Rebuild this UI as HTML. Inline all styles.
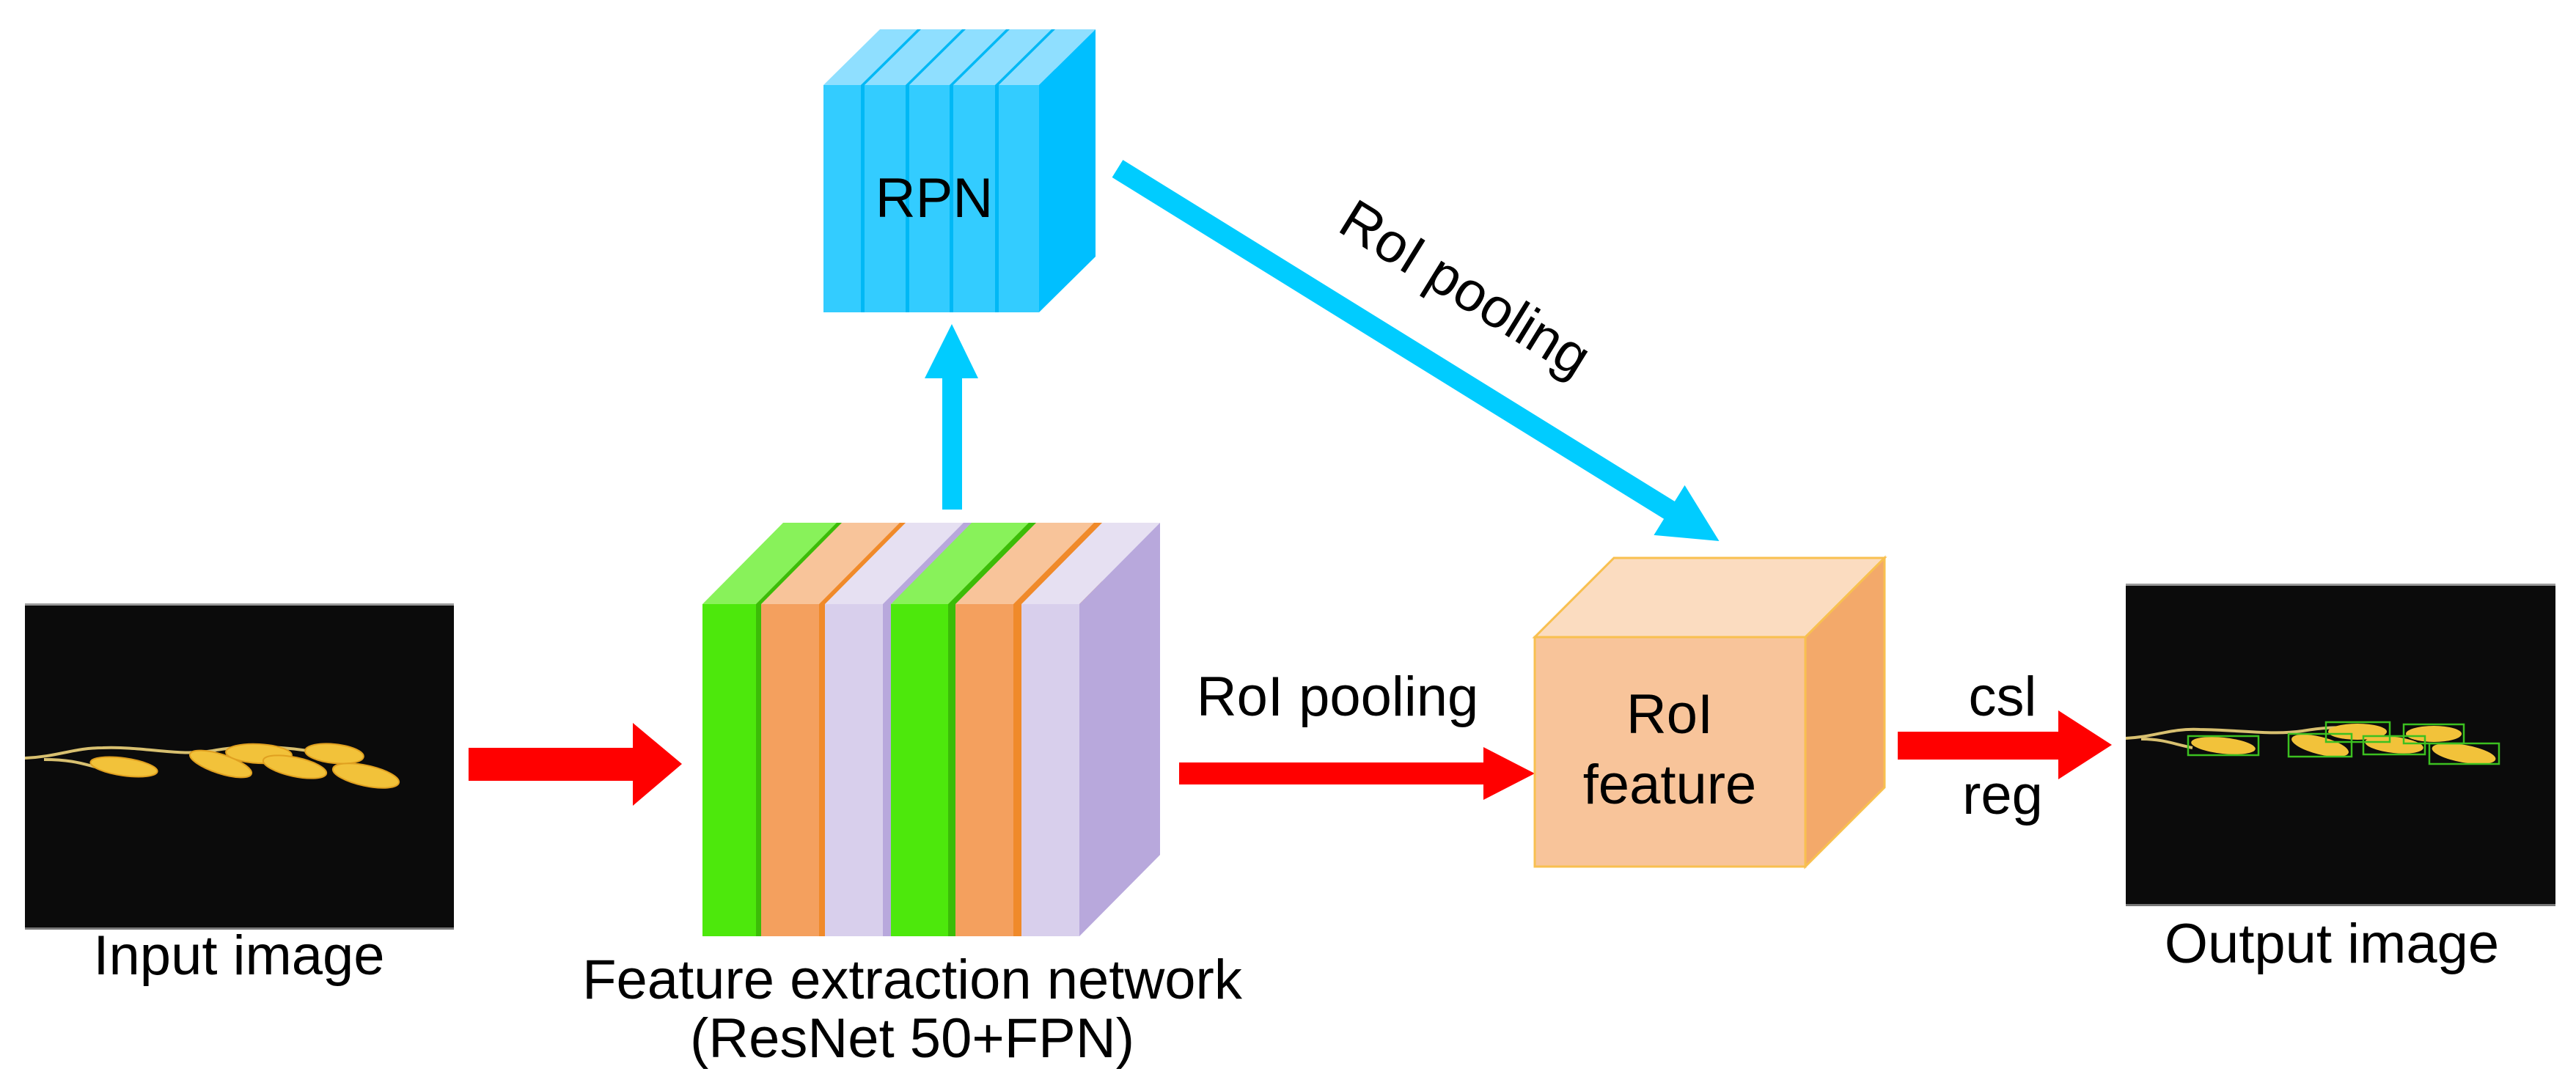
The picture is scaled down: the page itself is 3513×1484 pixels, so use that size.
<!DOCTYPE html>
<html><head><meta charset="utf-8"><style>
html,body{margin:0;padding:0;background:#fff;}
svg{display:block;}
text{font-family:"Liberation Sans",Arial,sans-serif;fill:#000;}
</style></head><body>
<svg width="3513" height="1484" viewBox="0 0 3513 1484" xmlns="http://www.w3.org/2000/svg">
<rect width="3513" height="1484" fill="#fff"/>

<!-- Input image -->
<rect x="34" y="825" width="585" height="442" fill="#0b0b0b"/>
<rect x="34" y="823" width="585" height="3" fill="#999"/>
<rect x="34" y="1265" width="585" height="3" fill="#777"/>
<g fill="#f2c23a" stroke="#e0a020" stroke-width="2">
<path d="M34 1034 C80 1032 100 1020 140 1020 C200 1018 240 1032 290 1024 C330 1016 380 1018 420 1024" fill="none" stroke="#d8c070" stroke-width="4"/>
<path d="M60 1036 C110 1036 120 1046 150 1050" fill="none" stroke="#d8c070" stroke-width="4"/>
<ellipse cx="169" cy="1046" rx="46" ry="12" transform="rotate(8 169 1046)"/>
<ellipse cx="301" cy="1042" rx="44" ry="13" transform="rotate(18 301 1042)"/>
<ellipse cx="353" cy="1028" rx="45" ry="13" transform="rotate(3 353 1028)"/>
<ellipse cx="402" cy="1046" rx="44" ry="13" transform="rotate(12 402 1046)"/>
<ellipse cx="456" cy="1028" rx="40" ry="13" transform="rotate(6 456 1028)"/>
<ellipse cx="499" cy="1058" rx="46" ry="14" transform="rotate(12 499 1058)"/>
</g>
<text x="326" y="1329" font-size="76" text-anchor="middle">Input image</text>

<!-- Red arrow 1 -->
<polygon points="639,1020 863,1020 863,986 930,1042 863,1099 863,1065 639,1065" fill="#ff0000"/>

<!-- Feature stack -->
<g>
<!-- slab: green 1 -->
<polygon points="958,824 1038,824 1148,713 1068,713" fill="#88f25a"/>
<polygon points="1031,824 1141,713 1148,713 1148,1166 1038,1277 1031,1277" fill="#3cbc08"/>
<rect x="958" y="824" width="73" height="453" fill="#4de80c"/>
<!-- orange 1 -->
<polygon points="1038,824 1125,824 1235,713 1148,713" fill="#f8c49a"/>
<polygon points="1117,824 1227,713 1235,713 1235,1166 1125,1277 1117,1277" fill="#f08a2a"/>
<rect x="1038" y="824" width="79" height="453" fill="#f4a05e"/>
<!-- lavender 1 -->
<polygon points="1125,824 1215,824 1325,713 1235,713" fill="#e6e0f2"/>
<polygon points="1204,824 1314,713 1325,713 1325,1166 1215,1277 1204,1277" fill="#b8a8dc"/>
<rect x="1125" y="824" width="79" height="453" fill="#d8cfec"/>
<!-- green 2 -->
<polygon points="1215,824 1303,824 1413,713 1325,713" fill="#88f25a"/>
<polygon points="1293,824 1403,713 1413,713 1413,1166 1303,1277 1293,1277" fill="#3cbc08"/>
<rect x="1215" y="824" width="78" height="453" fill="#4de80c"/>
<!-- orange 2 -->
<polygon points="1303,824 1393,824 1503,713 1413,713" fill="#f8c49a"/>
<polygon points="1382,824 1492,713 1503,713 1503,1166 1393,1277 1382,1277" fill="#f08a2a"/>
<rect x="1303" y="824" width="79" height="453" fill="#f4a05e"/>
<!-- lavender 2 -->
<polygon points="1393,824 1472,824 1582,713 1503,713" fill="#e6e0f2"/>
<polygon points="1472,824 1582,713 1582,1166 1472,1277" fill="#b8a8dc"/>
<rect x="1393" y="824" width="79" height="453" fill="#d8cfec"/>
</g>
<text x="1244" y="1362" font-size="76" text-anchor="middle">Feature extraction network</text>
<text x="1244" y="1442" font-size="76" text-anchor="middle">(ResNet 50+FPN)</text>

<!-- Blue up arrow -->
<polygon points="1285,695 1312,695 1312,516 1334,516 1298,442 1261,516 1285,516" fill="#00ccff"/>

<!-- RPN block -->
<g>
<polygon points="1123,116 1179,116 1256,40 1200,40" fill="#8fdfff"/>
<polygon points="1174,116 1251,40 1256,40 1256,350 1179,426 1174,426" fill="#00b8f5"/>
<rect x="1123" y="116" width="51" height="310" fill="#33ccff"/>
<polygon points="1179,116 1240,116 1317,40 1256,40" fill="#8fdfff"/>
<polygon points="1235,116 1312,40 1317,40 1317,350 1240,426 1235,426" fill="#00b8f5"/>
<rect x="1179" y="116" width="56" height="310" fill="#33ccff"/>
<polygon points="1240,116 1300,116 1377,40 1317,40" fill="#8fdfff"/>
<polygon points="1295,116 1372,40 1377,40 1377,350 1300,426 1295,426" fill="#00b8f5"/>
<rect x="1240" y="116" width="55" height="310" fill="#33ccff"/>
<polygon points="1300,116 1362,116 1439,40 1377,40" fill="#8fdfff"/>
<polygon points="1357,116 1434,40 1439,40 1439,350 1362,426 1357,426" fill="#00b8f5"/>
<rect x="1300" y="116" width="57" height="310" fill="#33ccff"/>
<polygon points="1362,116 1417,116 1494,40 1439,40" fill="#8fdfff"/>
<polygon points="1417,116 1494,40 1494,350 1417,426" fill="#00bfff"/>
<rect x="1362" y="116" width="55" height="310" fill="#33ccff"/>
</g>
<text x="1274" y="296" font-size="76" text-anchor="middle">RPN</text>

<!-- Diagonal blue arrow -->
<g transform="translate(1524,230) rotate(31.76)">
<polygon points="0,-14 885,-14 885,-40 965,0 885,40 885,14 0,14" fill="#00ccff"/>
</g>
<text x="0" y="0" font-size="76" text-anchor="middle" transform="translate(1985,415) rotate(31.76)">RoI pooling</text>

<!-- Red arrow 2 -->
<polygon points="1608,1040 2023,1040 2023,1019 2093,1055 2023,1091 2023,1070 1608,1070" fill="#ff0000"/>
<text x="1824" y="976" font-size="76" text-anchor="middle">RoI pooling</text>

<!-- RoI feature cube -->
<polygon points="2093,869 2462,869 2570,761 2201,761" fill="#fbdcc0" stroke="#f8c050" stroke-width="3"/>
<polygon points="2462,869 2570,761 2570,1074 2462,1182" fill="#f3a96a" stroke="#f8c050" stroke-width="3"/>
<rect x="2093" y="869" width="369" height="313" fill="#f8c49a" stroke="#f8c050" stroke-width="3"/>
<text x="2277" y="1000" font-size="76" text-anchor="middle">RoI</text>
<text x="2277" y="1096" font-size="76" text-anchor="middle">feature</text>

<!-- Red arrow 3 -->
<polygon points="2588,998 2807,998 2807,969 2880,1016 2807,1063 2807,1036 2588,1036" fill="#ff0000"/>
<text x="2731" y="976" font-size="76" text-anchor="middle">csl</text>
<text x="2731" y="1110" font-size="76" text-anchor="middle">reg</text>

<!-- Output image -->
<rect x="2899" y="798" width="586" height="437" fill="#0b0b0b"/>
<rect x="2899" y="796" width="586" height="3" fill="#999"/>
<rect x="2899" y="1233" width="586" height="3" fill="#777"/>
<path d="M2899 1007 C2940 1005 2960 993 3000 995 C3060 996 3100 1003 3140 997 C3180 990 3200 992 3240 996" fill="none" stroke="#d8c070" stroke-width="4"/>
<path d="M2920 1008 C2950 1008 2965 1015 2990 1020" fill="none" stroke="#d8c070" stroke-width="4"/>
<g fill="#f2c23a">
<ellipse cx="3032" cy="1017" rx="44" ry="11" transform="rotate(6 3032 1017)"/>
<ellipse cx="3164" cy="1017" rx="40" ry="12" transform="rotate(14 3164 1017)"/>
<ellipse cx="3215" cy="998" rx="40" ry="11"/>
<ellipse cx="3265" cy="1016" rx="40" ry="11" transform="rotate(6 3265 1016)"/>
<ellipse cx="3319" cy="1001" rx="38" ry="11"/>
<ellipse cx="3360" cy="1028" rx="44" ry="12" transform="rotate(10 3360 1028)"/>
</g>
<g fill="none" stroke="#3cc020" stroke-width="2.5">
<rect x="2984" y="1004" width="96" height="26"/>
<rect x="3121" y="1001" width="86" height="31"/>
<rect x="3172" y="985" width="87" height="27"/>
<rect x="3223" y="1004" width="84" height="25"/>
<rect x="3278" y="988" width="82" height="26"/>
<rect x="3313" y="1014" width="95" height="28"/>
</g>
<text x="3180" y="1313" font-size="76" text-anchor="middle">Output image</text>
</svg>
</body></html>
